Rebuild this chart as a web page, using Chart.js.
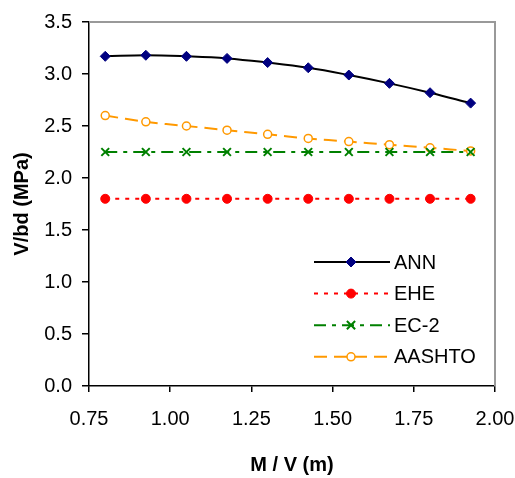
<!DOCTYPE html>
<html>
<head>
<meta charset="utf-8">
<script src="https://cdn.jsdelivr.net/npm/chart.js"></script>
<style>
  html, body { margin: 0; padding: 0; background: #fff; }
  #wrap { width: 515px; height: 478px; }
</style>
</head>
<body>
<div id="wrap"><canvas id="c" width="515" height="478"></canvas></div>
<script>
// values
const mv = [0.8, 0.925, 1.05, 1.175, 1.3, 1.425, 1.55, 1.675, 1.8, 1.925];
const ann = [3.17, 3.18, 3.17, 3.15, 3.11, 3.06, 2.99, 2.91, 2.82, 2.72];
const ehe = [1.8, 1.8, 1.8, 1.8, 1.8, 1.8, 1.8, 1.8, 1.8, 1.8];
const ec2 = [2.25, 2.25, 2.25, 2.25, 2.25, 2.25, 2.25, 2.25, 2.25, 2.25];
const aashto = [2.60, 2.54, 2.50, 2.46, 2.42, 2.38, 2.35, 2.32, 2.29, 2.26];
const seriesNames = ['ANN', 'EHE', 'EC-2', 'AASHTO'];
const xTicks = [0.75, 1.00, 1.25, 1.50, 1.75, 2.00];
const yTicks = [0, 0.5, 1.0, 1.5, 2.0, 2.5, 3.0, 3.5];

const FONT = "'Liberation Sans', Arial, sans-serif";
const pts = ys => ys.map((y, i) => ({x: mv[i], y: y}));

// Excel-like legend inside the plot, line sample with marker in the middle
const boxLegend = {
    id: 'boxLegend',
    afterDraw(chart) {
        const ctx = chart.ctx, a = chart.chartArea;
        const x1 = a.left + 225, x2 = a.left + 301, xm = a.left + 262;
        chart.data.datasets.forEach((ds, i) => {
            const y = a.top + 240 + i * 31.6;
            ctx.save();
            ctx.strokeStyle = ds.borderColor;
            ctx.lineWidth = ds.borderWidth;
            ctx.setLineDash(ds.borderDash || []);
            ctx.beginPath();
            ctx.moveTo(x1, y);
            ctx.lineTo(x2, y);
            ctx.stroke();
            ctx.setLineDash([]);
            ctx.fillStyle = ds.pointBackgroundColor;
            ctx.strokeStyle = ds.pointBorderColor;
            ctx.lineWidth = ds.pointBorderWidth;
            ctx.beginPath();
            drawMarker(ctx, ds.pointStyle, ds.pointRadius, xm, y);
            if (ds.pointStyle !== 'crossRot') ctx.fill();
            ctx.stroke();
            ctx.fillStyle = '#000';
            ctx.font = '20px ' + FONT;
            ctx.textBaseline = 'middle';
            ctx.fillText(seriesNames[i], x2 + 4, y + 1);
            ctx.restore();
        });
    }
};

function drawMarker(ctx, style, r, x, y) {
    if (style === 'rectRot') {
        ctx.moveTo(x, y - r); ctx.lineTo(x + r, y); ctx.lineTo(x, y + r); ctx.lineTo(x - r, y); ctx.closePath();
    } else if (style === 'crossRot') {
        const d = r * 0.75;
        ctx.moveTo(x - d, y - d); ctx.lineTo(x + d, y + d);
        ctx.moveTo(x + d, y - d); ctx.lineTo(x - d, y + d);
    } else {
        ctx.arc(x, y, r, 0, Math.PI * 2);
    }
}

// grey plot frame on top and right
const frame = {
    id: 'frame',
    beforeDatasetsDraw(chart) {
        const ctx = chart.ctx, a = chart.chartArea;
        ctx.save();
        ctx.strokeStyle = '#999';
        ctx.lineWidth = 2;
        ctx.beginPath();
        ctx.moveTo(a.left, a.top);
        ctx.lineTo(a.right, a.top);
        ctx.lineTo(a.right, a.bottom);
        ctx.stroke();
        ctx.restore();
    }
};

new Chart(document.getElementById('c'), {
    type: 'line',
    data: {
        datasets: [
            {
                label: seriesNames[0], data: pts(ann),
                borderColor: '#000', borderWidth: 2, tension: 0.4,
                pointStyle: 'rectRot', pointRadius: 5, pointBorderWidth: 1,
                pointBackgroundColor: '#000080', pointBorderColor: '#000080'
            },
            {
                label: seriesNames[1], data: pts(ehe),
                borderColor: '#ff0000', borderWidth: 2, borderDash: [4, 6],
                pointStyle: 'circle', pointRadius: 4.5, pointBorderWidth: 1,
                pointBackgroundColor: '#ff0000', pointBorderColor: '#ff0000'
            },
            {
                label: seriesNames[2], data: pts(ec2),
                borderColor: '#008000', borderWidth: 2, borderDash: [12, 6, 4, 6],
                pointStyle: 'crossRot', pointRadius: 5.5, pointBorderWidth: 2,
                pointBackgroundColor: '#008000', pointBorderColor: '#008000'
            },
            {
                label: seriesNames[3], data: pts(aashto),
                borderColor: '#ff9900', borderWidth: 2, borderDash: [13, 7], tension: 0.3,
                pointStyle: 'circle', pointRadius: 4, pointBorderWidth: 1.5,
                pointBackgroundColor: '#ffffff', pointBorderColor: '#ff9900'
            }
        ]
    },
    options: {
        responsive: false,
        animation: false,
        devicePixelRatio: 1,
        layout: { padding: { left: 0, top: 21, right: 20, bottom: 0 } },
        plugins: { legend: { display: false }, tooltip: { enabled: false } },
        scales: {
            x: {
                type: 'linear', min: 0.75, max: 2.0,
                afterBuildTicks: s => { s.ticks = xTicks.map(v => ({value: v})); },
                afterFit: s => { s.height = 92; s.paddingLeft = 0; s.paddingRight = 0; },
                grid: { drawOnChartArea: false, color: '#000', tickLength: 6, lineWidth: 1.5 },
                border: { color: '#000', width: 1.5 },
                ticks: {
                    color: '#000', font: { family: FONT, size: 20 }, padding: 15,
                    maxRotation: 0, callback: v => Number(v).toFixed(2)
                },
                title: {
                    display: true, text: 'M / V (m)', color: '#000',
                    font: { family: FONT, size: 20, weight: 'bold' },
                    padding: { top: 0, bottom: 1 }
                }
            },
            y: {
                min: 0, max: 3.5,
                afterBuildTicks: s => { s.ticks = yTicks.map(v => ({value: v})); },
                afterFit: s => { s.width = 89; },
                grid: { drawOnChartArea: false, color: '#000', tickLength: 7, lineWidth: 1.5 },
                border: { color: '#000', width: 1.5 },
                ticks: {
                    color: '#000', font: { family: FONT, size: 20 }, padding: 10,
                    callback: v => Number(v).toFixed(1)
                },
                title: {
                    display: true, text: 'V/bd (MPa)', color: '#000',
                    font: { family: FONT, size: 20, weight: 'bold' },
                    padding: { top: 10, bottom: 0 }
                }
            }
        }
    },
    plugins: [frame, boxLegend]
});
</script>
</body>
</html>
